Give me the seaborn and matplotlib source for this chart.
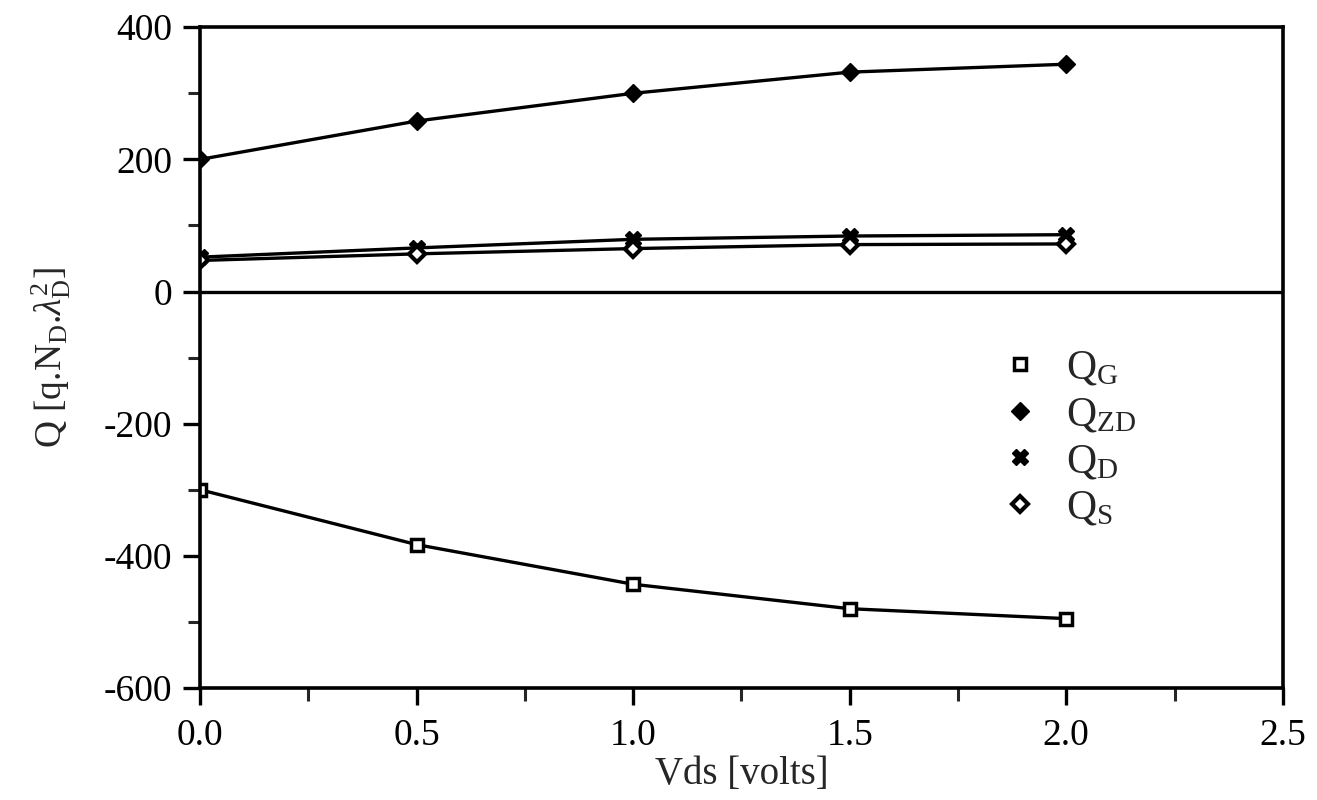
import matplotlib
matplotlib.use("Agg")
import matplotlib.pyplot as plt
from matplotlib.lines import Line2D
import seaborn as sns
import pandas as pd

# valores
vds = [0.0, 0.5, 1.0, 1.5, 2.0]
q_g = [-300, -383, -443, -480, -495]
q_zd = [200, 258, 300, 332, 344]
q_d = [52, 66, 79, 84, 86]
q_s = [47, 57, 65, 71, 72]

labels = [r"$\mathrm{Q_G}$", r"$\mathrm{Q_{ZD}}$", r"$\mathrm{Q_D}$", r"$\mathrm{Q_S}$"]

sns.set_style("ticks")
plt.rcParams["font.family"] = ["Liberation Serif", "DejaVu Serif"]
plt.rcParams["mathtext.fontset"] = "custom"
plt.rcParams["mathtext.rm"] = "Liberation Serif"
plt.rcParams["mathtext.it"] = "Liberation Serif:italic"
plt.rcParams["axes.unicode_minus"] = False

df = pd.DataFrame({"Vds": vds, "QG": q_g, "QZD": q_zd, "QD": q_d, "QS": q_s})

fig = plt.figure(figsize=(13.17, 8), dpi=100)
ax = fig.add_axes([0.152, 0.14, 0.822, 0.826])

estilos = {
    "QG": dict(marker="s", markersize=9, markerfacecolor="white", markeredgewidth=2.5),
    "QZD": dict(marker="D", markersize=9, markerfacecolor="black", markeredgewidth=1),
    "QD": dict(marker="X", markersize=11, markerfacecolor="black", markeredgewidth=1),
    "QS": dict(marker="D", markersize=8, markerfacecolor="white", markeredgewidth=3),
}

for col in ["QG", "QZD", "QD", "QS"]:
    sns.lineplot(data=df, x="Vds", y=col, ax=ax, color="black", linewidth=2.4,
                 markeredgecolor="black", **estilos[col])

# linea de cero
ax.axhline(0, color="black", linewidth=2.4)

ax.set_xlim(0, 2.5)
ax.set_ylim(-600, 400)
ax.set_xticks([0, 0.5, 1.0, 1.5, 2.0, 2.5])
ax.set_xticklabels(["0.0", "0.5", "1.0", "1.5", "2.0", "2.5"])
ax.set_xticks([0.25, 0.75, 1.25, 1.75, 2.25], minor=True)
ax.set_yticks([-600, -400, -200, 0, 200, 400])
ax.set_yticks([-500, -300, -100, 100, 300], minor=True)
ax.tick_params(axis="both", which="major", direction="out", length=12, width=2.4,
               labelsize=27, colors="black")
ax.tick_params(axis="both", which="minor", direction="out", length=9, width=2.2)
ax.tick_params(axis="x", pad=10)
ax.tick_params(axis="y", pad=8)

for s in ax.spines.values():
    s.set_linewidth(2.6)
    s.set_color("black")

ax.set_xlabel("Vds [volts]", fontsize=28, labelpad=2)
ax.set_ylabel(r"Q [q.N$_\mathrm{D}$.$\lambda_\mathrm{D}^2$]", fontsize=27, labelpad=22)

handles = [Line2D([], [], linestyle="none", color="black", markeredgecolor="black", **estilos[c])
           for c in ["QG", "QZD", "QD", "QS"]]
ax.legend(handles, labels, loc="upper left", bbox_to_anchor=(0.7, 0.57), frameon=False,
          fontsize=30, handletextpad=0.5, labelspacing=0.2, handlelength=1.2)

fig.savefig("out.png", dpi=100)
